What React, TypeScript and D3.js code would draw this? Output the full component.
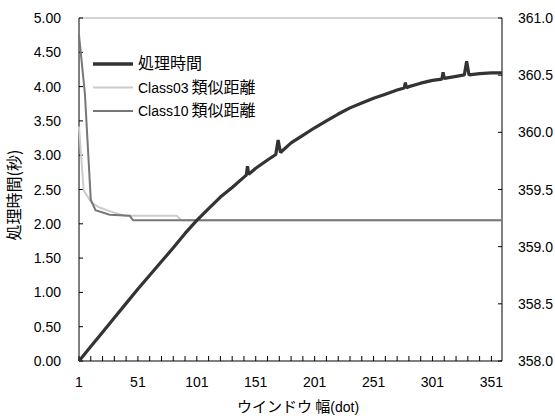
import React from "react";
import * as d3 from "d3";

// window width (dot) / processing time (sec), read every 10 windows + spikes
const timeWindows = [1, 11, 21, 31, 41, 51, 61, 71, 81, 91, 101, 111, 121, 131, 141, 143, 144, 145, 151, 161, 168, 170, 172, 181, 191, 201, 211, 221, 231, 241, 251, 261, 271, 277, 278, 279, 281, 291, 301, 309, 310, 311, 321, 328, 330, 332, 341, 351, 360];
const timeValues = [0.0, 0.21, 0.42, 0.63, 0.84, 1.05, 1.25, 1.45, 1.65, 1.86, 2.05, 2.22, 2.39, 2.53, 2.68, 2.71, 2.84, 2.72, 2.81, 2.93, 3.01, 3.22, 3.04, 3.18, 3.29, 3.4, 3.5, 3.6, 3.69, 3.76, 3.83, 3.89, 3.95, 3.98, 4.06, 3.98, 4.0, 4.05, 4.09, 4.11, 4.21, 4.12, 4.15, 4.17, 4.37, 4.17, 4.19, 4.2, 4.2];

// similarity distances (right axis)
const class03Windows = [1, 5, 12, 19, 30, 40, 84, 88, 360];
const class03Values = [360.05, 359.49, 359.38, 359.34, 359.3, 359.27, 359.27, 359.23, 359.23];
const class10Windows = [1, 6, 11, 15, 27, 44, 47, 360];
const class10Values = [360.85, 360.34, 359.41, 359.32, 359.28, 359.27, 359.23, 359.23];

const leftTicks = [0, 0.5, 1, 1.5, 2, 2.5, 3, 3.5, 4, 4.5, 5];
const rightTicks = [358, 358.5, 359, 359.5, 360, 360.5, 361];
const xLabels = [1, 51, 101, 151, 201, 251, 301, 351];

const legendItems = [
  { name: "処理時間", color: "#333333", width: 3.5 },
  { name: "Class03", suffix: "類似距離", color: "#cccccc", width: 2 },
  { name: "Class10", suffix: "類似距離", color: "#777777", width: 2 },
];

const W = 555;
const H = 418;
const left = 79;
const right = 502;
const top = 18;
const bottom = 361;
const latin = "'Liberation Sans', Arial, sans-serif";
const cjk = "'Noto Sans CJK JP', sans-serif";

export default function App() {
  const x = d3.scaleLinear().domain([1, 360]).range([left, right]);
  const yL = d3.scaleLinear().domain([0, 5]).range([bottom, top]);
  const yR = d3.scaleLinear().domain([358, 361]).range([bottom, top]);

  const lineL = d3.line<[number, number]>().x((d) => x(d[0])).y((d) => yL(d[1]));
  const lineR = d3.line<[number, number]>().x((d) => x(d[0])).y((d) => yR(d[1]));

  const zip = (a: number[], b: number[]) => a.map((v, i) => [v, b[i]] as [number, number]);

  const xTicks = d3.range(1, 361, 10);

  return (
    <svg width={W} height={H} style={{ position: "absolute", left: 0, top: 0 }}>
      <rect width={W} height={H} fill="#fff" />
      {/* frame */}
      <line x1={left} x2={right} y1={top} y2={top} stroke="#aaaaaa" />
      <line x1={left} x2={left} y1={top} y2={bottom} stroke="#000" />
      <line x1={right} x2={right} y1={top} y2={bottom} stroke="#000" />
      <line x1={left} x2={right} y1={bottom} y2={bottom} stroke="#000" />

      {leftTicks.map((t) => (
        <g key={"l" + t}>
          <line x1={left} x2={left + 4} y1={yL(t)} y2={yL(t)} stroke="#000" />
          <text x={61} y={yL(t)} dy="0.36em" textAnchor="end" fontFamily={latin} fontSize={14}>
            {t.toFixed(2)}
          </text>
        </g>
      ))}
      {rightTicks.map((t) => (
        <g key={"r" + t}>
          <line x1={right - 4} x2={right} y1={yR(t)} y2={yR(t)} stroke="#000" />
          <text x={518} y={yR(t)} dy="0.36em" textAnchor="start" fontFamily={latin} fontSize={14}>
            {t.toFixed(1)}
          </text>
        </g>
      ))}
      {xTicks.map((t) => (
        <line key={"x" + t} x1={x(t)} x2={x(t)} y1={bottom} y2={bottom - 5} stroke="#000" />
      ))}
      {xLabels.map((t) => (
        <text key={"xl" + t} x={x(t)} y={387} textAnchor="middle" fontFamily={latin} fontSize={14}>
          {t}
        </text>
      ))}

      {/* series */}
      <path d={lineR(zip(class03Windows, class03Values)) || ""} fill="none" stroke="#cccccc" strokeWidth={2} />
      <path d={lineR(zip(class10Windows, class10Values)) || ""} fill="none" stroke="#777777" strokeWidth={2} />
      <path d={lineL(zip(timeWindows, timeValues)) || ""} fill="none" stroke="#333333" strokeWidth={3.2} strokeLinejoin="bevel" />

      {/* legend */}
      {legendItems.map((d, i) => {
        const ly = 64 + i * 23.5;
        return (
          <g key={d.name}>
            <line x1={93} x2={133} y1={ly} y2={ly} stroke={d.color} strokeWidth={d.width} />
            <text x={138} y={ly} dy="0.36em" fontSize={14}>
              {d.suffix ? (
                <>
                  <tspan fontFamily={latin}>{d.name}</tspan>
                  <tspan fontFamily={cjk} fontSize={16} dx={3}>{d.suffix}</tspan>
                </>
              ) : (
                <tspan fontFamily={cjk} fontSize={16}>{d.name}</tspan>
              )}
            </text>
          </g>
        );
      })}

      {/* axis titles */}
      <text transform={`translate(20,195) rotate(-90)`} textAnchor="middle" fontFamily={cjk} fontSize={16}>
        処理時間(秒)
      </text>
      <text x={298} y={412} textAnchor="middle" fontSize={15}>
        <tspan fontFamily={cjk}>ウインドウ 幅</tspan>
        <tspan fontFamily={latin} fontSize={14}>(dot)</tspan>
      </text>
    </svg>
  );
}
